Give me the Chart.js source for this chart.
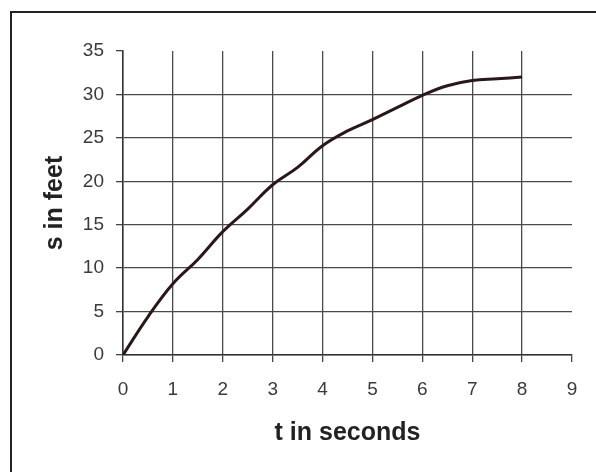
<!DOCTYPE html>
<html lang="en">
<head>
  <meta charset="UTF-8" />
  <title>s vs t</title>
  <script src="https://cdn.jsdelivr.net/npm/chart.js"></script>
  <style>
    html, body { margin: 0; padding: 0; background: #fff; }
    #wrap { width: 596px; height: 472px; position: relative; }
  </style>
</head>
<body>
  <div id="wrap"><canvas id="chart" width="596" height="472"></canvas></div>
  <script>
    // time in seconds and distance in feet
    const times = [0, 0.5, 1, 1.5, 2, 2.5, 3, 3.5, 4, 4.5, 5, 5.5, 6, 6.5, 7, 7.5, 8];
    const feet  = [0, 4.4, 8.2, 11.0, 14.2, 16.8, 19.6, 21.6, 24.1, 25.8, 27.1, 28.5, 29.9, 31.0, 31.6, 31.8, 32.0];
    const xTitle = "t in seconds";
    const yTitle = "s in feet";

    const points = times.map((t, i) => ({ x: t, y: feet[i] }));

    // outer frame of the scanned figure
    const frame = {
      id: 'frame',
      afterDraw(chart) {
        const c = chart.ctx;
        c.save();
        c.strokeStyle = '#222';
        c.lineWidth = 2;
        c.strokeRect(11, 12, 800, 800);
        c.restore();
      }
    };

    const tickFont = { family: "'Liberation Sans', Arial, sans-serif", size: 19 };
    const titleFont = { family: "'Liberation Sans', Arial, sans-serif", size: 25, weight: 'bold' };

    new Chart(document.getElementById("chart"), {
      type: 'scatter',
      data: {
        datasets: [{
          data: points,
          showLine: true,
          borderColor: '#2a1818',
          borderWidth: 3,
          pointRadius: 0,
          tension: 0.4
        }]
      },
      options: {
        responsive: false,
        animation: false,
        layout: { padding: { left: 0, top: 51, right: 24, bottom: 0 } },
        plugins: { legend: { display: false }, tooltip: { enabled: false } },
        scales: {
          x: {
            type: 'linear',
            min: 0, max: 9,
            afterFit: s => { s.height = 117; },
            ticks: { stepSize: 1, color: '#3a3a3a', font: tickFont, padding: 16 },
            grid: {
              color: ctx => ctx.tick && ctx.tick.value === 9 ? 'rgba(0,0,0,0)' : '#4a4a4a',
              lineWidth: 1.3,
              tickLength: 7,
              tickColor: '#444'
            },
            border: { color: '#333', width: 1.5 },
            title: { display: true, text: xTitle, color: '#222', font: titleFont, padding: { top: 0, bottom: 24 } }
          },
          y: {
            min: 0, max: 35,
            afterFit: s => { s.width = 123; },
            ticks: { stepSize: 5, color: '#3a3a3a', font: tickFont, padding: 12 },
            grid: {
              color: ctx => ctx.tick && ctx.tick.value === 35 ? 'rgba(0,0,0,0)' : '#4a4a4a',
              lineWidth: 1.3,
              tickLength: 7,
              tickColor: '#444'
            },
            border: { color: '#333', width: 1.5 },
            title: { display: true, text: yTitle, color: '#222', font: titleFont, padding: { top: 40, bottom: 0 } }
          }
        }
      },
      plugins: [frame]
    });
  </script>
</body>
</html>
